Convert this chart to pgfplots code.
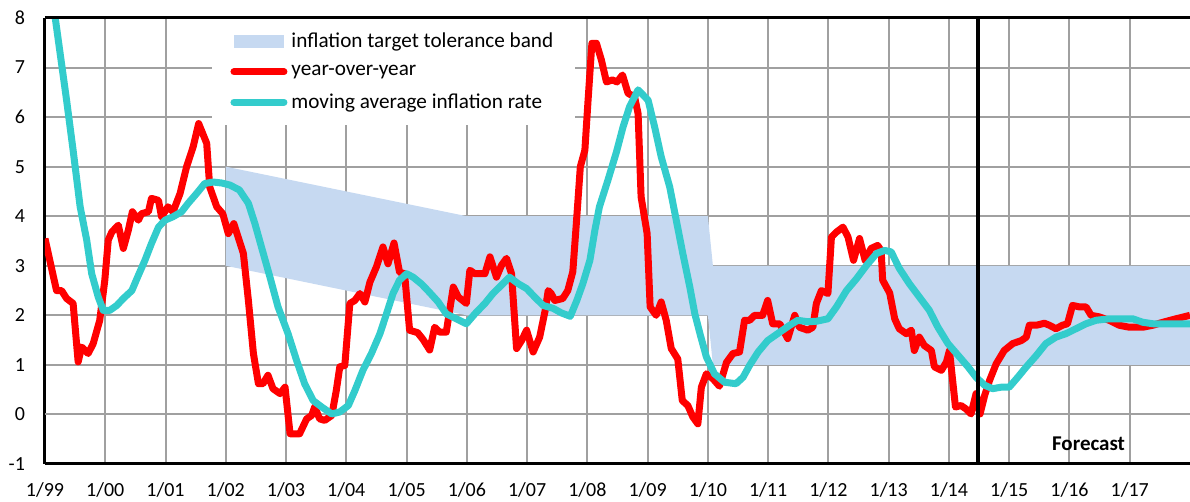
\documentclass[border=0pt]{standalone}
\usepackage{fontspec}
\setmainfont{Carlito}
\usepackage{pgfplots}
\pgfplotsset{compat=1.18}
\definecolor{bandblue}{HTML}{C6D9F1}
\definecolor{mavg}{HTML}{33CCCC}
\definecolor{gridgray}{HTML}{A0A0A0}
\begin{document}
\begin{tikzpicture}
\begin{axis}[
  width=572.5pt, height=223pt, scale only axis,
  xmin=0, xmax=228, ymin=-1, ymax=8,
  xtick={0,12,...,216},
  xticklabels={1/99,1/00,1/01,1/02,1/03,1/04,1/05,1/06,1/07,1/08,1/09,1/10,1/11,1/12,1/13,1/14,1/15,1/16,1/17},
  ytick={-1,0,...,8},
  yticklabels={-1,0,1,2,3,4,5,6,7,8},
  grid=major,
  major grid style={color=gridgray, line width=1pt},
  axis lines*=left,
  axis line style={line width=1.5pt, -},
  tick style={draw=none},
  tick label style={font=\fontsize{10}{12}\selectfont},
  yticklabel style={xshift=-6.5pt},
  xticklabel style={yshift=-6pt},
  extra y ticks={0}, extra y tick labels={},
  extra y tick style={grid style={black, line width=1.5pt}},
  legend style={at={(0.1459,1)}, anchor=north west, fill=white, draw=none,
    font=\fontsize{10.6}{12}\selectfont, inner xsep=9pt, inner ysep=5pt,
    row sep=3.5pt, cells={anchor=west}},
  legend cell align=left,
]
\coordinate (bl) at (rel axis cs:0,0);
\coordinate (tr) at (rel axis cs:1,1);
\addplot[fill=bandblue, draw=none,
  legend image code/.code={\fill[bandblue] (1pt,-3.2pt) rectangle (26pt,3.2pt);}]
  coordinates {(36,5) (84,4) (132,4) (133,3) (228,3) (228,1) (133,1) (132,2) (84,2) (36,3)} -- cycle;
\addlegendentry{inflation target tolerance band}
\addplot[red, line width=3.5pt, line join=round,
  legend image code/.code={\draw[red, line width=3.5pt, line cap=round] (1pt,0pt) -- (26pt,0pt);}]
  table {
0 3.55
1.7 2.77
2.3 2.5
3.3 2.5
4.3 2.34
5.6 2.24
6.6 1.06
7.3 1.36
8.6 1.23
9.6 1.43
10.9 1.9
11.9 2.7
12.6 3.52
13.3 3.68
14.6 3.82
15.6 3.35
16.6 3.72
17.4 4.09
18.6 3.92
19.2 4.05
20.6 4.09
21.2 4.36
22.6 4.32
23.2 3.99
24.5 4.19
25.5 4.09
26.9 4.46
28.2 5.0
29.5 5.4
30.6 5.87
32.2 5.47
32.8 4.59
34.2 4.19
35.4 4.05
36.5 3.65
37.6 3.85
39.5 3.25
40.5 2.3
41.5 1.23
42.5 0.62
43.4 0.62
44.4 0.79
45.4 0.52
46.8 0.42
47.8 0.55
48.8 -0.39
50.7 -0.39
52.1 -0.09
53.1 -0.02
53.7 0.15
54.7 -0.09
55.7 -0.12
57.1 -0.02
58.0 0.48
58.7 0.96
59.7 0.99
60.7 2.24
61.7 2.3
62.7 2.44
63.7 2.27
64.7 2.67
66.0 2.98
67.3 3.38
68.3 3.04
69.5 3.46
70.6 2.87
71.6 2.84
72.6 1.70
74.2 1.65
75.3 1.51
76.6 1.3
77.6 1.76
78.6 1.66
79.9 1.66
81.3 2.57
82.3 2.37
83.9 2.24
84.6 2.91
85.6 2.84
87.6 2.84
88.6 3.18
89.9 2.77
90.9 3.01
91.9 3.15
92.9 2.84
93.9 1.33
94.9 1.49
95.9 1.70
97.2 1.26
98.5 1.56
99.6 2.1
100.2 2.5
100.8 2.44
101.5 2.3
103.1 2.34
104.1 2.5
105.1 2.88
105.8 3.85
106.6 5.0
107.5 5.33
108.1 6.28
108.9 7.49
109.8 7.49
110.8 7.15
111.8 6.71
113.0 6.75
113.9 6.71
115.0 6.85
116.1 6.48
117.4 6.41
118.1 6.07
118.7 4.39
119.9 3.65
120.5 2.17
121.7 2.0
122.7 2.27
123.7 1.90
124.7 1.33
126.0 1.12
126.9 0.28
128.0 0.18
129.0 -0.05
130.0 -0.19
130.7 0.55
131.7 0.82
133.0 0.72
134.3 0.57
135.7 1.05
137.0 1.23
138.3 1.26
139.3 1.90
140.3 1.90
141.3 2.0
142.9 2.0
143.9 2.3
144.9 1.83
146.3 1.83
147.9 1.53
149.3 2.0
150.2 1.76
151.9 1.70
152.9 1.76
153.6 2.24
154.6 2.5
155.9 2.44
156.6 3.58
157.6 3.68
158.9 3.78
159.9 3.58
161.0 3.11
162.2 3.55
163.3 3.11
164.5 3.35
165.8 3.41
166.5 3.31
166.8 2.71
168.2 2.45
169.2 1.93
170.1 1.73
171.5 1.63
172.5 1.70
173.1 1.29
174.1 1.56
175.1 1.39
176.5 1.29
177.1 0.96
178.5 0.89
179.5 1.06
180.1 1.29
181.3 0.15
182.4 0.18
183.4 0.11
184.4 0.01
185.4 0.42
186.2 0.01
187.1 0.38
188.1 0.69
189.4 1.02
191.0 1.29
192.7 1.43
194.4 1.49
195.4 1.56
196.0 1.80
197.4 1.80
199.0 1.84
200.0 1.80
201.3 1.73
202.6 1.80
203.6 1.83
204.6 2.20
206.0 2.17
207.3 2.17
208.3 2.0
209.9 1.97
211.9 1.90
213.9 1.80
215.9 1.76
218.6 1.76
220.6 1.80
222.6 1.86
225.2 1.93
228 2.0
};
\addlegendentry{year-over-year}
\addplot[mavg, line width=3.5pt, line join=round,
  legend image code/.code={\draw[mavg, line width=3.5pt, line cap=round] (1pt,0pt) -- (26pt,0pt);}]
  table {
0 9.4
2.0 8.03
4.3 6.34
5.6 5.33
7.0 4.19
8.3 3.52
9.3 2.84
10.6 2.37
11.6 2.10
12.9 2.10
14.3 2.2
15.6 2.34
17.3 2.5
18.6 2.81
19.9 3.11
21.2 3.45
22.6 3.78
23.9 3.92
25.5 3.99
27.2 4.09
28.5 4.26
30.2 4.46
31.8 4.66
33.5 4.69
35.2 4.67
36.8 4.63
38.7 4.53
40.5 4.26
41.8 3.85
43.1 3.38
44.8 2.77
46.4 2.17
48.4 1.63
50.1 1.09
51.7 0.62
53.4 0.28
55.1 0.15
57.1 0.01
58.7 0.05
60.4 0.18
61.7 0.48
63.3 0.89
65.0 1.23
66.7 1.63
68.0 2.03
69.3 2.44
70.6 2.71
72.0 2.84
73.3 2.77
75.0 2.63
76.6 2.46
78.3 2.27
79.9 2.03
81.9 1.93
83.9 1.83
85.6 2.03
87.6 2.24
89.2 2.44
90.9 2.61
92.5 2.77
94.2 2.64
95.9 2.54
97.5 2.37
99.2 2.20
101.2 2.14
102.8 2.05
104.6 1.98
105.9 2.3
107.1 2.64
108.5 3.11
109.5 3.72
110.4 4.19
112.1 4.73
113.8 5.3
115.1 5.80
116.4 6.21
118.1 6.55
120.1 6.34
121.4 5.80
122.7 5.20
124.4 4.59
125.7 3.92
127.0 3.25
128.4 2.57
129.4 2.03
130.5 1.6
131.7 1.16
133.3 0.82
135.3 0.65
137.6 0.62
139.0 0.75
140.3 0.99
142.0 1.26
143.9 1.49
146.3 1.66
148.3 1.80
149.9 1.90
151.9 1.87
153.6 1.88
155.9 1.93
157.6 2.17
159.6 2.5
161.6 2.74
163.6 3.01
165.6 3.25
167.2 3.31
168.5 3.28
170.1 2.95
172.1 2.64
174.1 2.37
176.1 2.10
177.8 1.76
179.8 1.43
182.1 1.16
183.8 0.96
185.4 0.75
187.1 0.59
188.7 0.52
190.4 0.55
192.0 0.55
193.7 0.75
195.4 0.96
197.4 1.19
199.3 1.43
201.3 1.56
203.3 1.63
205.3 1.73
207.3 1.83
209.3 1.90
211.9 1.93
214.6 1.93
216.6 1.93
218.6 1.86
220.6 1.83
228 1.83
};
\addlegendentry{moving average inflation rate}
\addplot[black, line width=2pt, forget plot] coordinates {(185.8,-1) (185.8,8)};
\node[font=\fontsize{10.5}{12}\selectfont\bfseries] at (axis cs:207.8,-0.59) {Forecast};
\end{axis}
\draw[line width=1.5pt] (bl |- tr) -- (tr);
\pgfresetboundingbox
\path ([xshift=-22.5pt,yshift=-19pt]bl) rectangle ([yshift=9pt]tr);
\end{tikzpicture}
\end{document}
